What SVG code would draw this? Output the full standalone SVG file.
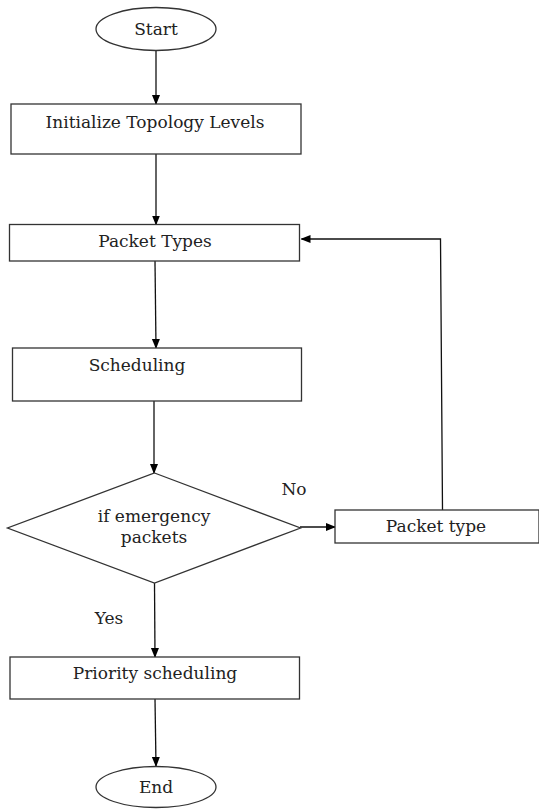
<svg xmlns="http://www.w3.org/2000/svg" width="539" height="809" viewBox="0 0 539 809">
<style>
.shape{fill:#fff;stroke:#333;stroke-width:1.3}
.t{font-family:"DejaVu Serif","Liberation Serif",serif;font-size:17px;fill:#222;text-anchor:middle}
.c{fill:none;stroke:#111;stroke-width:1.3}
</style>
<defs>
<marker id="ah" markerWidth="10" markerHeight="10" refX="9" refY="5" orient="auto" markerUnits="userSpaceOnUse">
<path d="M0,1 L10,5 L0,9 Z" fill="#000"/>
</marker>
</defs>
<rect width="539" height="809" fill="#fff"/>
<g id="connectors">
<line class="c" x1="156" y1="51" x2="156" y2="104" marker-end="url(#ah)"/>
<line class="c" x1="156" y1="154" x2="156" y2="224.5" marker-end="url(#ah)"/>
<line class="c" x1="155" y1="261" x2="156" y2="348" marker-end="url(#ah)"/>
<line class="c" x1="154" y1="401" x2="154" y2="473" marker-end="url(#ah)"/>
<line class="c" x1="300" y1="527" x2="335" y2="527" marker-end="url(#ah)"/>
<polyline class="c" points="442.5,510 440.5,239 301.5,239" marker-end="url(#ah)"/>
<line class="c" x1="154.5" y1="583" x2="155" y2="657" marker-end="url(#ah)"/>
<line class="c" x1="155" y1="699" x2="156" y2="766" marker-end="url(#ah)"/>
</g>
<g id="start">
<ellipse class="shape" cx="156" cy="29" rx="60" ry="21.5"/>
<text class="t" x="156" y="35">Start</text>
</g>
<g id="init">
<rect class="shape" x="11" y="104" width="290" height="50"/>
<text class="t" x="155" y="128">Initialize Topology Levels</text>
</g>
<g id="packet-types">
<rect class="shape" x="9.5" y="224.5" width="290" height="36.5"/>
<text class="t" x="155" y="247">Packet Types</text>
</g>
<g id="scheduling">
<rect class="shape" x="12.5" y="348" width="289" height="53"/>
<text class="t" x="137" y="371">Scheduling</text>
</g>
<g id="decision">
<polygon class="shape" points="154.5,473 300.5,528 154.5,583 7.5,528"/>
<text class="t" x="154" y="522">if emergency</text>
<text class="t" x="154" y="543">packets</text>
</g>
<g id="packet-type">
<rect class="shape" x="335" y="510" width="204" height="33"/>
<text class="t" x="436" y="532">Packet type</text>
</g>
<g id="priority">
<rect class="shape" x="10" y="657" width="289.5" height="42"/>
<text class="t" x="155" y="679">Priority scheduling</text>
</g>
<g id="end">
<ellipse class="shape" cx="156" cy="787" rx="60" ry="20.5"/>
<text class="t" x="156" y="793">End</text>
</g>
<g id="labels">
<text class="t" x="294" y="495">No</text>
<text class="t" x="109" y="624">Yes</text>
</g>
</svg>
